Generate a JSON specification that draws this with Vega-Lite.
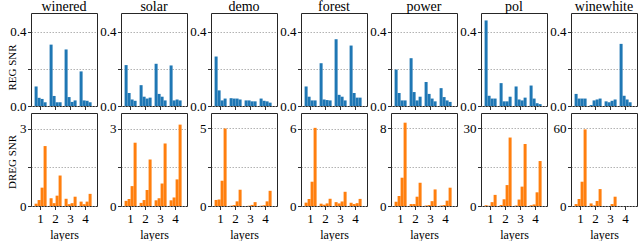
{
"$schema":"https://vega.github.io/schema/vega-lite/v6.json",
"background":"white",
"padding":{"left":5,"top":-1,"right":0,"bottom":0},
"config":{
"view":{"stroke":"#262626","strokeWidth":1},
"axis":{"labelFont":"Liberation Serif","labelFontSize":13,"titleFont":"Liberation Serif","titleFontSize":12,"titleFontWeight":"normal","domain":false,"tickColor":"#000","tickSize":3.5,"tickWidth":0.8,"labelColor":"#000","titleColor":"#000","labelPadding":1.5,"titlePadding":2,"gridColor":"#a0a0a0","gridDash":[1.5,1.5],"gridWidth":0.8,"labelOverlap":false,"labelFlush":false,"labelBound":false},
"axisX":{"labelAngle":0,"grid":false,"labelPadding":3,"titlePadding":4},
"title":{"font":"Liberation Serif","fontSize":14,"fontWeight":"normal","color":"#000","offset":-0.5,"baseline":"alphabetic","frame":"group"}
},
"data":{"values":[
{"dataset":"winered","layer":1,"bar":1,"reg":0.105,"dreg":0.09},
{"dataset":"winered","layer":1,"bar":2,"reg":0.044,"dreg":0.23},
{"dataset":"winered","layer":1,"bar":3,"reg":0.038,"dreg":0.71},
{"dataset":"winered","layer":1,"bar":4,"reg":0.02,"dreg":2.32},
{"dataset":"winered","layer":2,"bar":1,"reg":0.33,"dreg":0.3},
{"dataset":"winered","layer":2,"bar":2,"reg":0.054,"dreg":0.11},
{"dataset":"winered","layer":2,"bar":3,"reg":0.02,"dreg":0.4},
{"dataset":"winered","layer":2,"bar":4,"reg":0.02,"dreg":1.18},
{"dataset":"winered","layer":3,"bar":1,"reg":0.304,"dreg":0.28},
{"dataset":"winered","layer":3,"bar":2,"reg":0.048,"dreg":0.07},
{"dataset":"winered","layer":3,"bar":3,"reg":0.022,"dreg":0.11},
{"dataset":"winered","layer":3,"bar":4,"reg":0.03,"dreg":0.36},
{"dataset":"winered","layer":4,"bar":1,"reg":0.186,"dreg":0.17},
{"dataset":"winered","layer":4,"bar":2,"reg":0.03,"dreg":0.07},
{"dataset":"winered","layer":4,"bar":3,"reg":0.028,"dreg":0.17},
{"dataset":"winered","layer":4,"bar":4,"reg":0.02,"dreg":0.47},
{"dataset":"solar","layer":1,"bar":1,"reg":0.22,"dreg":0.2},
{"dataset":"solar","layer":1,"bar":2,"reg":0.07,"dreg":0.27},
{"dataset":"solar","layer":1,"bar":3,"reg":0.035,"dreg":0.77},
{"dataset":"solar","layer":1,"bar":4,"reg":0.028,"dreg":2.45},
{"dataset":"solar","layer":2,"bar":1,"reg":0.112,"dreg":0.12},
{"dataset":"solar","layer":2,"bar":2,"reg":0.05,"dreg":0.23},
{"dataset":"solar","layer":2,"bar":3,"reg":0.04,"dreg":0.62},
{"dataset":"solar","layer":2,"bar":4,"reg":0.045,"dreg":1.8},
{"dataset":"solar","layer":3,"bar":1,"reg":0.227,"dreg":0.22},
{"dataset":"solar","layer":3,"bar":2,"reg":0.065,"dreg":0.3},
{"dataset":"solar","layer":3,"bar":3,"reg":0.05,"dreg":0.87},
{"dataset":"solar","layer":3,"bar":4,"reg":0.03,"dreg":2.42},
{"dataset":"solar","layer":4,"bar":1,"reg":0.218,"dreg":0.22},
{"dataset":"solar","layer":4,"bar":2,"reg":0.03,"dreg":0.33},
{"dataset":"solar","layer":4,"bar":3,"reg":0.035,"dreg":1.03},
{"dataset":"solar","layer":4,"bar":4,"reg":0.03,"dreg":3.15},
{"dataset":"demo","layer":1,"bar":1,"reg":0.266,"dreg":0.39},
{"dataset":"demo","layer":1,"bar":2,"reg":0.084,"dreg":0.42},
{"dataset":"demo","layer":1,"bar":3,"reg":0.03,"dreg":1.63},
{"dataset":"demo","layer":1,"bar":4,"reg":0.04,"dreg":5.0},
{"dataset":"demo","layer":2,"bar":1,"reg":0.042,"dreg":0.02},
{"dataset":"demo","layer":2,"bar":2,"reg":0.04,"dreg":0.06},
{"dataset":"demo","layer":2,"bar":3,"reg":0.04,"dreg":0.3},
{"dataset":"demo","layer":2,"bar":4,"reg":0.035,"dreg":1.05},
{"dataset":"demo","layer":3,"bar":1,"reg":0.03,"dreg":0.0},
{"dataset":"demo","layer":3,"bar":2,"reg":0.03,"dreg":0.02},
{"dataset":"demo","layer":3,"bar":3,"reg":0.025,"dreg":0.07},
{"dataset":"demo","layer":3,"bar":4,"reg":0.025,"dreg":0.25},
{"dataset":"demo","layer":4,"bar":1,"reg":0.04,"dreg":0.02},
{"dataset":"demo","layer":4,"bar":2,"reg":0.028,"dreg":0.05},
{"dataset":"demo","layer":4,"bar":3,"reg":0.025,"dreg":0.3},
{"dataset":"demo","layer":4,"bar":4,"reg":0.018,"dreg":0.98},
{"dataset":"forest","layer":1,"bar":1,"reg":0.105,"dreg":0.26},
{"dataset":"forest","layer":1,"bar":2,"reg":0.05,"dreg":0.54},
{"dataset":"forest","layer":1,"bar":3,"reg":0.03,"dreg":1.88},
{"dataset":"forest","layer":1,"bar":4,"reg":0.03,"dreg":6.05},
{"dataset":"forest","layer":2,"bar":1,"reg":0.23,"dreg":0.18},
{"dataset":"forest","layer":2,"bar":2,"reg":0.035,"dreg":0.1},
{"dataset":"forest","layer":2,"bar":3,"reg":0.032,"dreg":0.2},
{"dataset":"forest","layer":2,"bar":4,"reg":0.03,"dreg":0.56},
{"dataset":"forest","layer":3,"bar":1,"reg":0.359,"dreg":0.3},
{"dataset":"forest","layer":3,"bar":2,"reg":0.06,"dreg":0.2},
{"dataset":"forest","layer":3,"bar":3,"reg":0.05,"dreg":0.35},
{"dataset":"forest","layer":3,"bar":4,"reg":0.03,"dreg":1.1},
{"dataset":"forest","layer":4,"bar":1,"reg":0.325,"dreg":0.25},
{"dataset":"forest","layer":4,"bar":2,"reg":0.07,"dreg":0.15},
{"dataset":"forest","layer":4,"bar":3,"reg":0.045,"dreg":0.22},
{"dataset":"forest","layer":4,"bar":4,"reg":0.045,"dreg":0.55},
{"dataset":"power","layer":1,"bar":1,"reg":0.196,"dreg":0.44},
{"dataset":"power","layer":1,"bar":2,"reg":0.07,"dreg":1.03},
{"dataset":"power","layer":1,"bar":3,"reg":0.03,"dreg":2.92},
{"dataset":"power","layer":1,"bar":4,"reg":0.03,"dreg":8.6},
{"dataset":"power","layer":2,"bar":1,"reg":0.257,"dreg":0.2},
{"dataset":"power","layer":2,"bar":2,"reg":0.075,"dreg":0.2},
{"dataset":"power","layer":2,"bar":3,"reg":0.03,"dreg":0.96},
{"dataset":"power","layer":2,"bar":4,"reg":0.05,"dreg":2.4},
{"dataset":"power","layer":3,"bar":1,"reg":0.129,"dreg":0.05},
{"dataset":"power","layer":3,"bar":2,"reg":0.065,"dreg":0.1},
{"dataset":"power","layer":3,"bar":3,"reg":0.04,"dreg":0.5},
{"dataset":"power","layer":3,"bar":4,"reg":0.025,"dreg":1.71},
{"dataset":"power","layer":4,"bar":1,"reg":0.096,"dreg":0.05},
{"dataset":"power","layer":4,"bar":2,"reg":0.048,"dreg":0.1},
{"dataset":"power","layer":4,"bar":3,"reg":0.03,"dreg":0.55},
{"dataset":"power","layer":4,"bar":4,"reg":0.022,"dreg":1.89},
{"dataset":"pol","layer":1,"bar":1,"reg":0.46,"dreg":0.3},
{"dataset":"pol","layer":1,"bar":2,"reg":0.055,"dreg":0.1},
{"dataset":"pol","layer":1,"bar":3,"reg":0.04,"dreg":1.5},
{"dataset":"pol","layer":1,"bar":4,"reg":0.04,"dreg":4.3},
{"dataset":"pol","layer":2,"bar":1,"reg":0.123,"dreg":0.4},
{"dataset":"pol","layer":2,"bar":2,"reg":0.025,"dreg":2.6},
{"dataset":"pol","layer":2,"bar":3,"reg":0.025,"dreg":8.1},
{"dataset":"pol","layer":2,"bar":4,"reg":0.05,"dreg":26.5},
{"dataset":"pol","layer":3,"bar":1,"reg":0.105,"dreg":0.2},
{"dataset":"pol","layer":3,"bar":2,"reg":0.035,"dreg":2.5},
{"dataset":"pol","layer":3,"bar":3,"reg":0.03,"dreg":7.5},
{"dataset":"pol","layer":3,"bar":4,"reg":0.045,"dreg":24.0},
{"dataset":"pol","layer":4,"bar":1,"reg":0.11,"dreg":0.3},
{"dataset":"pol","layer":4,"bar":2,"reg":0.04,"dreg":0.6},
{"dataset":"pol","layer":4,"bar":3,"reg":0.015,"dreg":5.3},
{"dataset":"pol","layer":4,"bar":4,"reg":0.01,"dreg":17.4},
{"dataset":"winewhite","layer":1,"bar":1,"reg":0.065,"dreg":1.5},
{"dataset":"winewhite","layer":1,"bar":2,"reg":0.04,"dreg":5.4},
{"dataset":"winewhite","layer":1,"bar":3,"reg":0.04,"dreg":18.8},
{"dataset":"winewhite","layer":1,"bar":4,"reg":0.04,"dreg":59.3},
{"dataset":"winewhite","layer":2,"bar":1,"reg":0.005,"dreg":2.0},
{"dataset":"winewhite","layer":2,"bar":2,"reg":0.03,"dreg":0.5},
{"dataset":"winewhite","layer":2,"bar":3,"reg":0.035,"dreg":3.9},
{"dataset":"winewhite","layer":2,"bar":4,"reg":0.04,"dreg":13.1},
{"dataset":"winewhite","layer":3,"bar":1,"reg":0.025,"dreg":0.0},
{"dataset":"winewhite","layer":3,"bar":2,"reg":0.02,"dreg":0.0},
{"dataset":"winewhite","layer":3,"bar":3,"reg":0.028,"dreg":1.5},
{"dataset":"winewhite","layer":3,"bar":4,"reg":0.035,"dreg":7.2},
{"dataset":"winewhite","layer":4,"bar":1,"reg":0.334,"dreg":0.0},
{"dataset":"winewhite","layer":4,"bar":2,"reg":0.055,"dreg":0.0},
{"dataset":"winewhite","layer":4,"bar":3,"reg":0.035,"dreg":0.0},
{"dataset":"winewhite","layer":4,"bar":4,"reg":0.02,"dreg":0.0}
]},
"bounds":"flush",
"columns":7,
"spacing":{"row":7,"column":24},
"concat":[
{"title":"winered","width":66,"height":93,"transform":[{"filter":"datum.dataset==='winered'"}],"mark":{"type":"bar","color":"#1f77b4"},"encoding":{"x":{"field":"layer","type":"ordinal","scale":{"paddingInner":0.2,"paddingOuter":0.3,"align":0.4},"axis":{"labels":false,"title":null}},"xOffset":{"field":"bar","type":"ordinal","scale":{"paddingInner":0,"paddingOuter":0}},"y":{"field":"reg","type":"quantitative","scale":{"domain":[0,0.5],"nice":false},"axis":{"values":[0,0.2,0.4],"labelExpr":"datum.value==0.2?'':format(datum.value,'.1f')","title":"REG SNR","titleFontSize":11,"titleX":-19,"titleY":54,"titleBaseline":"middle"}}}},
{"title":"solar","width":66,"height":93,"transform":[{"filter":"datum.dataset==='solar'"}],"mark":{"type":"bar","color":"#1f77b4"},"encoding":{"x":{"field":"layer","type":"ordinal","scale":{"paddingInner":0.2,"paddingOuter":0.3,"align":0.4},"axis":{"labels":false,"title":null}},"xOffset":{"field":"bar","type":"ordinal","scale":{"paddingInner":0,"paddingOuter":0}},"y":{"field":"reg","type":"quantitative","scale":{"domain":[0,0.5],"nice":false},"axis":{"values":[0,0.2,0.4],"labelExpr":"datum.value==0.2?'':format(datum.value,'.1f')","title":null}}}},
{"title":"demo","width":66,"height":93,"transform":[{"filter":"datum.dataset==='demo'"}],"mark":{"type":"bar","color":"#1f77b4"},"encoding":{"x":{"field":"layer","type":"ordinal","scale":{"paddingInner":0.2,"paddingOuter":0.3,"align":0.4},"axis":{"labels":false,"title":null}},"xOffset":{"field":"bar","type":"ordinal","scale":{"paddingInner":0,"paddingOuter":0}},"y":{"field":"reg","type":"quantitative","scale":{"domain":[0,0.5],"nice":false},"axis":{"values":[0,0.2,0.4],"labelExpr":"datum.value==0.2?'':format(datum.value,'.1f')","title":null}}}},
{"title":"forest","width":66,"height":93,"transform":[{"filter":"datum.dataset==='forest'"}],"mark":{"type":"bar","color":"#1f77b4"},"encoding":{"x":{"field":"layer","type":"ordinal","scale":{"paddingInner":0.2,"paddingOuter":0.3,"align":0.4},"axis":{"labels":false,"title":null}},"xOffset":{"field":"bar","type":"ordinal","scale":{"paddingInner":0,"paddingOuter":0}},"y":{"field":"reg","type":"quantitative","scale":{"domain":[0,0.5],"nice":false},"axis":{"values":[0,0.2,0.4],"labelExpr":"datum.value==0.2?'':format(datum.value,'.1f')","title":null}}}},
{"title":"power","width":66,"height":93,"transform":[{"filter":"datum.dataset==='power'"}],"mark":{"type":"bar","color":"#1f77b4"},"encoding":{"x":{"field":"layer","type":"ordinal","scale":{"paddingInner":0.2,"paddingOuter":0.3,"align":0.4},"axis":{"labels":false,"title":null}},"xOffset":{"field":"bar","type":"ordinal","scale":{"paddingInner":0,"paddingOuter":0}},"y":{"field":"reg","type":"quantitative","scale":{"domain":[0,0.5],"nice":false},"axis":{"values":[0,0.2,0.4],"labelExpr":"datum.value==0.2?'':format(datum.value,'.1f')","title":null}}}},
{"title":"pol","width":66,"height":93,"transform":[{"filter":"datum.dataset==='pol'"}],"mark":{"type":"bar","color":"#1f77b4"},"encoding":{"x":{"field":"layer","type":"ordinal","scale":{"paddingInner":0.2,"paddingOuter":0.3,"align":0.4},"axis":{"labels":false,"title":null}},"xOffset":{"field":"bar","type":"ordinal","scale":{"paddingInner":0,"paddingOuter":0}},"y":{"field":"reg","type":"quantitative","scale":{"domain":[0,0.5],"nice":false},"axis":{"values":[0,0.2,0.4],"labelExpr":"datum.value==0.2?'':format(datum.value,'.1f')","title":null}}}},
{"title":"winewhite","width":66,"height":93,"transform":[{"filter":"datum.dataset==='winewhite'"}],"mark":{"type":"bar","color":"#1f77b4"},"encoding":{"x":{"field":"layer","type":"ordinal","scale":{"paddingInner":0.2,"paddingOuter":0.3,"align":0.4},"axis":{"labels":false,"title":null}},"xOffset":{"field":"bar","type":"ordinal","scale":{"paddingInner":0,"paddingOuter":0}},"y":{"field":"reg","type":"quantitative","scale":{"domain":[0,0.5],"nice":false},"axis":{"values":[0,0.2,0.4],"labelExpr":"datum.value==0.2?'':format(datum.value,'.1f')","title":null}}}},
{"width":66,"height":93,"transform":[{"filter":"datum.dataset==='winered'"}],"mark":{"type":"bar","color":"#ff7f0e"},"encoding":{"x":{"field":"layer","type":"ordinal","scale":{"paddingInner":0.2,"paddingOuter":0.3,"align":0.4},"axis":{"title":"layers"}},"xOffset":{"field":"bar","type":"ordinal","scale":{"paddingInner":0,"paddingOuter":0}},"y":{"field":"dreg","type":"quantitative","scale":{"domain":[0,3.6],"nice":false},"axis":{"values":[0,1.5,3],"labelExpr":"datum.value==1.5?'':format(datum.value,'d')","title":"DREG SNR","titleFontSize":11,"titleX":-19,"titleY":48.5,"titleBaseline":"middle"}}}},
{"width":66,"height":93,"transform":[{"filter":"datum.dataset==='solar'"}],"mark":{"type":"bar","color":"#ff7f0e"},"encoding":{"x":{"field":"layer","type":"ordinal","scale":{"paddingInner":0.2,"paddingOuter":0.3,"align":0.4},"axis":{"title":"layers"}},"xOffset":{"field":"bar","type":"ordinal","scale":{"paddingInner":0,"paddingOuter":0}},"y":{"field":"dreg","type":"quantitative","scale":{"domain":[0,3.6],"nice":false},"axis":{"values":[0,1.5,3],"labelExpr":"datum.value==1.5?'':format(datum.value,'d')","title":null}}}},
{"width":66,"height":93,"transform":[{"filter":"datum.dataset==='demo'"}],"mark":{"type":"bar","color":"#ff7f0e"},"encoding":{"x":{"field":"layer","type":"ordinal","scale":{"paddingInner":0.2,"paddingOuter":0.3,"align":0.4},"axis":{"title":"layers"}},"xOffset":{"field":"bar","type":"ordinal","scale":{"paddingInner":0,"paddingOuter":0}},"y":{"field":"dreg","type":"quantitative","scale":{"domain":[0,6],"nice":false},"axis":{"values":[0,2.5,5],"labelExpr":"datum.value==2.5?'':format(datum.value,'d')","title":null}}}},
{"width":66,"height":93,"transform":[{"filter":"datum.dataset==='forest'"}],"mark":{"type":"bar","color":"#ff7f0e"},"encoding":{"x":{"field":"layer","type":"ordinal","scale":{"paddingInner":0.2,"paddingOuter":0.3,"align":0.4},"axis":{"title":"layers"}},"xOffset":{"field":"bar","type":"ordinal","scale":{"paddingInner":0,"paddingOuter":0}},"y":{"field":"dreg","type":"quantitative","scale":{"domain":[0,7.2],"nice":false},"axis":{"values":[0,3,6],"labelExpr":"datum.value==3?'':format(datum.value,'d')","title":null}}}},
{"width":66,"height":93,"transform":[{"filter":"datum.dataset==='power'"}],"mark":{"type":"bar","color":"#ff7f0e"},"encoding":{"x":{"field":"layer","type":"ordinal","scale":{"paddingInner":0.2,"paddingOuter":0.3,"align":0.4},"axis":{"title":"layers"}},"xOffset":{"field":"bar","type":"ordinal","scale":{"paddingInner":0,"paddingOuter":0}},"y":{"field":"dreg","type":"quantitative","scale":{"domain":[0,9.6],"nice":false},"axis":{"values":[0,4,8],"labelExpr":"datum.value==4?'':format(datum.value,'d')","title":null}}}},
{"width":66,"height":93,"transform":[{"filter":"datum.dataset==='pol'"}],"mark":{"type":"bar","color":"#ff7f0e"},"encoding":{"x":{"field":"layer","type":"ordinal","scale":{"paddingInner":0.2,"paddingOuter":0.3,"align":0.4},"axis":{"title":"layers"}},"xOffset":{"field":"bar","type":"ordinal","scale":{"paddingInner":0,"paddingOuter":0}},"y":{"field":"dreg","type":"quantitative","scale":{"domain":[0,36],"nice":false},"axis":{"values":[0,15,30],"labelExpr":"datum.value==15?'':format(datum.value,'d')","title":null}}}},
{"width":66,"height":93,"transform":[{"filter":"datum.dataset==='winewhite'"}],"mark":{"type":"bar","color":"#ff7f0e"},"encoding":{"x":{"field":"layer","type":"ordinal","scale":{"paddingInner":0.2,"paddingOuter":0.3,"align":0.4},"axis":{"title":"layers"}},"xOffset":{"field":"bar","type":"ordinal","scale":{"paddingInner":0,"paddingOuter":0}},"y":{"field":"dreg","type":"quantitative","scale":{"domain":[0,72],"nice":false},"axis":{"values":[0,30,60],"labelExpr":"datum.value==30?'':format(datum.value,'d')","title":null}}}}
]
}
